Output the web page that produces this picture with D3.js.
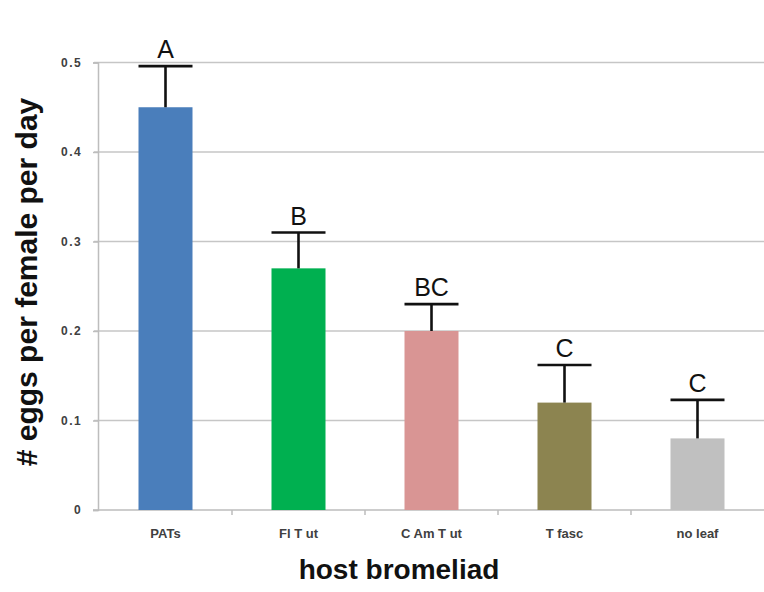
<!DOCTYPE html>
<html>
<head>
<meta charset="utf-8">
<script src="https://cdn.jsdelivr.net/npm/d3@7"></script>
<style>
  html, body { margin: 0; padding: 0; background: #ffffff; }
  svg { display: block; }
</style>
</head>
<body>
<svg id="chart" width="764" height="592"></svg>
<script>
// Oviposition rate by host bromeliad
const categories = ["PATs", "Fl T ut", "C Am T ut", "T fasc", "no leaf"];
const means = [0.45, 0.27, 0.20, 0.12, 0.08];
const errorTops = [0.496, 0.31, 0.23, 0.162, 0.123];
const groupLetters = ["A", "B", "BC", "C", "C"];
const barColors = ["#4a7ebb", "#00b050", "#d99594", "#8c8450", "#c0c0c0"];
const yTicks = [0, 0.1, 0.2, 0.3, 0.4, 0.5];
const yTickLabels = ["0", "0.1", "0.2", "0.3", "0.4", "0.5"];

const svg = d3.select("#chart");
const plotLeft = 99, plotRight = 764, plotTop = 62.5, plotBottom = 510;

const x = d3.scaleBand()
  .domain(categories)
  .range([plotLeft, plotRight])
  .paddingInner(0.594)
  .paddingOuter(0.297);

const y = d3.scaleLinear().domain([0, 0.5]).range([plotBottom, plotTop]);

// horizontal gridlines
svg.append("g")
  .selectAll("line")
  .data(yTicks.filter(d => d > 0))
  .join("line")
  .attr("x1", plotLeft - 5).attr("x2", plotRight)
  .attr("y1", d => y(d)).attr("y2", d => y(d))
  .attr("stroke", "#c6c6c6").attr("stroke-width", 1.5);

// y axis
const yAxis = svg.append("g")
  .attr("transform", `translate(${plotLeft - 1},0)`)
  .call(d3.axisLeft(y).tickValues(yTicks)
    .tickFormat((d, i) => yTickLabels[i]).tickSize(5).tickPadding(11));
yAxis.select(".domain").attr("stroke", "#bdbdbd").attr("stroke-width", 1.5);
yAxis.selectAll(".tick line").attr("stroke", "#bdbdbd").attr("stroke-width", 1.5);
yAxis.selectAll(".tick text")
  .attr("font-family", "Liberation Sans, Arial, sans-serif")
  .attr("font-weight", "bold").attr("font-size", 12)
  .attr("letter-spacing", "1.4px")
  .attr("fill", "#404040");

// x axis with separators between categories
const xAxisG = svg.append("g").attr("transform", `translate(0,${plotBottom})`);
xAxisG.append("line")
  .attr("x1", plotLeft - 6).attr("x2", plotRight)
  .attr("stroke", "#bdbdbd").attr("stroke-width", 1.5);
const bounds = categories.map(c => x(c) - x.step() * x.paddingInner() / 2).concat([plotRight]);
xAxisG.selectAll("line.sep")
  .data(bounds.slice(1, -1))
  .join("line").attr("class", "sep")
  .attr("x1", d => d).attr("x2", d => d)
  .attr("y1", 0).attr("y2", 5)
  .attr("stroke", "#bdbdbd").attr("stroke-width", 1.5);
xAxisG.selectAll("text")
  .data(categories)
  .join("text")
  .attr("x", d => x(d) + x.bandwidth() / 2)
  .attr("y", 28)
  .attr("text-anchor", "middle")
  .attr("font-family", "Liberation Sans, Arial, sans-serif")
  .attr("font-weight", "bold").attr("font-size", 13)
  .attr("fill", "#404040")
  .text(d => d);

// bars
svg.append("g")
  .selectAll("rect")
  .data(categories)
  .join("rect")
  .attr("x", d => x(d))
  .attr("width", x.bandwidth())
  .attr("y", (d, i) => y(means[i]))
  .attr("height", (d, i) => y(0) - y(means[i]))
  .attr("fill", (d, i) => barColors[i]);

// upper error bars
const err = svg.append("g").attr("stroke", "#111").attr("stroke-width", 2.6);
categories.forEach((c, i) => {
  const cx = x(c) + x.bandwidth() / 2;
  err.append("line")
    .attr("x1", cx).attr("x2", cx)
    .attr("y1", y(means[i])).attr("y2", y(errorTops[i]));
  err.append("line")
    .attr("x1", x(c)).attr("x2", x(c) + x.bandwidth())
    .attr("y1", y(errorTops[i])).attr("y2", y(errorTops[i]));
});

// significance letters
svg.append("g")
  .selectAll("text")
  .data(categories)
  .join("text")
  .attr("x", d => x(d) + x.bandwidth() / 2)
  .attr("y", (d, i) => y(errorTops[i]) - 8)
  .attr("text-anchor", "middle")
  .attr("font-family", "Liberation Sans, Arial, sans-serif")
  .attr("font-size", 25)
  .attr("fill", "#111")
  .text((d, i) => groupLetters[i]);

// axis titles
svg.append("text")
  .attr("x", 399).attr("y", 579)
  .attr("text-anchor", "middle")
  .attr("font-family", "Liberation Sans, Arial, sans-serif")
  .attr("font-weight", "bold").attr("font-size", 28)
  .attr("fill", "#111")
  .text("host bromeliad");

svg.append("text")
  .attr("transform", "translate(37,282) rotate(-90)")
  .attr("text-anchor", "middle")
  .attr("font-family", "Liberation Sans, Arial, sans-serif")
  .attr("font-weight", "bold").attr("font-size", 30)
  .attr("fill", "#111")
  .text("# eggs per female per day");
</script>
</body>
</html>
